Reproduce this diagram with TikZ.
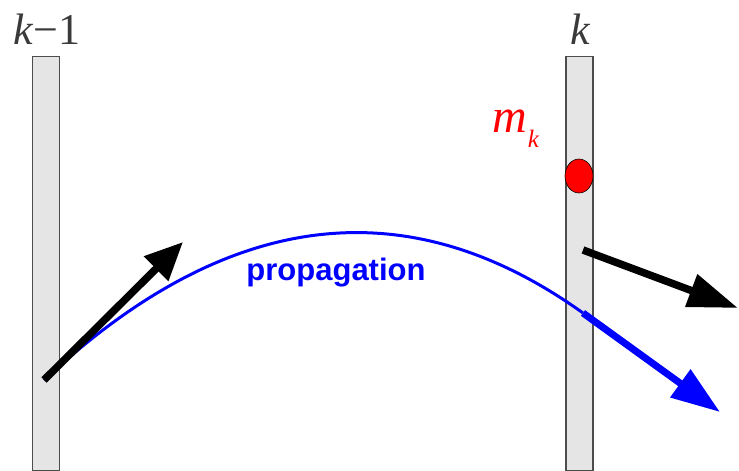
\documentclass[tikz,border=0pt]{standalone}
\usepackage{fontspec}
\setmainfont{Liberation Serif}
\newfontfamily\lsans{Liberation Sans}
\usetikzlibrary{arrows.meta,shapes.geometric}
\definecolor{bargray}{HTML}{E5E5E5}
\definecolor{labgray}{HTML}{3A3A3A}
\tikzset{
  barbox/.style={draw=black!70, line width=1.3pt, fill=bargray, minimum width=27pt, minimum height=414pt, inner sep=0pt, anchor=north},
  lab/.style={text=labgray, font=\fontsize{44}{48}\selectfont\itshape, inner sep=0pt},
  blackarrow/.style={line width=7.5pt, -{Triangle[length=#1pt, width=33pt]}},
  blackarrow/.default=40,
}
\begin{document}
\begin{tikzpicture}[x=1pt,y=-1pt]
\useasboundingbox (0,0) rectangle (739,471);
\node[barbox] (barL) at (46,56) {};
\node[barbox] (barR) at (579.5,56) {};
\node[lab] (labL) at (47,29) {k\kern1pt\textup{−1}};
\node[lab] (labR) at (580,29) {k};
\node[text=red, font=\fontsize{48}{52}\selectfont\itshape, inner sep=0pt, anchor=base west] (mk) at (492,132) {m\kern1pt\raisebox{-15pt}{\fontsize{25}{27}\selectfont k}};
\node[ellipse, draw=black, line width=0.6pt, fill=red, minimum width=28pt, minimum height=34pt, inner sep=0pt] (mass) at (579,176) {};
\coordinate (s) at (44,380);
\coordinate (e) at (583,313);
\coordinate (t1) at (183,242);
\coordinate (a2s) at (583,250);
\coordinate (t2) at (738,308);
\coordinate (t3) at (720,412);
\draw[blue, line width=3pt] (s) .. controls (226.6,209.5) and (406.3,186.5) .. (e);
\draw[blackarrow=38] (s) -- (t1);
\draw[blackarrow=50] (a2s) -- (t2);
\draw[blue, line width=7pt, -{Triangle[length=49pt, width=33pt]}] (e) -- (t3);
\node[text=blue, font=\lsans\bfseries\fontsize{31}{34}\selectfont, inner sep=0pt, anchor=base] (prop) at (336,280) {propagation};
\end{tikzpicture}
\end{document}
